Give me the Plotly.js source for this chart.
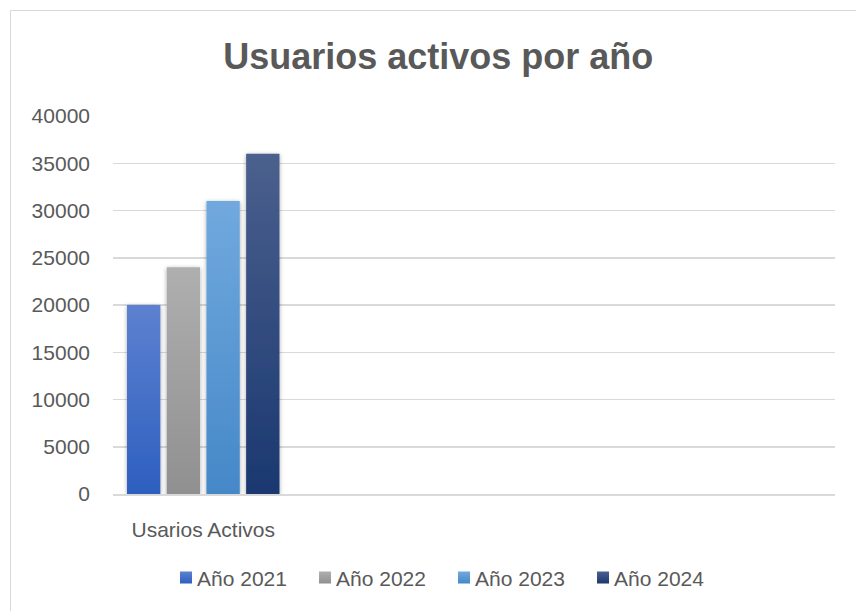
<!DOCTYPE html>
<html>
<head>
<meta charset="utf-8">
<script src="https://cdn.plot.ly/plotly-3.0.1.min.js"></script>
<style>
  html, body { margin: 0; padding: 0; background: #ffffff; overflow: hidden; }
  #chart { width: 856px; height: 611px; position: absolute; left: 0; top: 0; }
  #frame { position: absolute; left: 10px; top: 10px; width: 900px; height: 700px;
           border-left: 1.5px solid #d9d9d9; border-top: 1.5px solid #d9d9d9; pointer-events: none; }
</style>
</head>
<body>
<div id="chart"></div>
<div id="frame"></div>
<script>
// Data
const categories = ["Usarios Activos"];
const seriesNames = ["Año 2021", "Año 2022", "Año 2023", "Año 2024"];
const values2021 = [20000];
const values2022 = [24000];
const values2023 = [31000];
const values2024 = [36000];
const tickValues = [0, 5000, 10000, 15000, 20000, 25000, 30000, 35000, 40000];

const seriesValues = [values2021, values2022, values2023, values2024];
const baseColors = ["#3f6cc6", "#9e9e9e", "#559bd6", "#2a4679"];
const gradTop = ["#5d81d0", "#afafaf", "#71a9de", "#4b608d"];
const gradBottom = ["#2d5fbf", "#909090", "#4588c8", "#1b3870"];

const fontFam = "'Liberation Sans', Arial, sans-serif";
const textColor = "#595959";

const traces = seriesNames.map((name, i) => ({
  type: "bar",
  name: name,
  x: categories,
  y: seriesValues[i],
  marker: { color: baseColors[i], line: { width: 0 } },
  hoverinfo: "none"
}));

const layout = {
  width: 856,
  height: 611,
  paper_bgcolor: "#ffffff",
  plot_bgcolor: "#ffffff",
  margin: { l: 113, r: 21, t: 116, b: 117 },
  title: {
    text: "<b>Usuarios activos por año</b>",
    font: { family: fontFam, size: 36, color: textColor },
    x: 0.512, xanchor: "center",
    y: 0.907, yanchor: "middle"
  },
  barmode: "group",
  bargap: 0.12,
  bargroupgap: 0.16,
  showlegend: true,
  legend: {
    orientation: "h",
    x: 0.446, xanchor: "center",
    y: -0.222, yanchor: "middle",
    font: { family: fontFam, size: 21, color: textColor },
    entrywidth: 94,
    entrywidthmode: "pixels",
    itemwidth: 30
  },
  xaxis: {
    type: "category",
    range: [-0.5, 3.5],
    showgrid: false,
    showline: true,
    linecolor: "#d9d9d9",
    linewidth: 1.5,
    ticks: "",
    ticklabelstandoff: 16,
    tickfont: { family: fontFam, size: 21, color: textColor },
    fixedrange: true
  },
  yaxis: {
    range: [0, 40000],
    tickvals: tickValues,
    ticktext: tickValues.map(String),
    showgrid: true,
    gridcolor: "#d9d9d9",
    gridwidth: 1.5,
    zeroline: false,
    showline: false,
    ticks: "",
    ticklabelstandoff: 22,
    tickfont: { family: fontFam, size: 21, color: textColor },
    fixedrange: true
  }
};

Plotly.newPlot("chart", traces, layout, { displayModeBar: false, staticPlot: true }).then(gd => {
  const svg = gd.querySelector("svg.main-svg");
  const ns = "http://www.w3.org/2000/svg";
  let defs = svg.querySelector("defs");
  if (!defs) { defs = document.createElementNS(ns, "defs"); svg.insertBefore(defs, svg.firstChild); }
  gradTop.forEach((c, i) => {
    const lg = document.createElementNS(ns, "linearGradient");
    lg.setAttribute("id", "barGrad" + i);
    lg.setAttribute("x1", "0"); lg.setAttribute("y1", "0");
    lg.setAttribute("x2", "0"); lg.setAttribute("y2", "1");
    const s1 = document.createElementNS(ns, "stop");
    s1.setAttribute("offset", "0"); s1.setAttribute("stop-color", c);
    const s2 = document.createElementNS(ns, "stop");
    s2.setAttribute("offset", "1"); s2.setAttribute("stop-color", gradBottom[i]);
    lg.appendChild(s1); lg.appendChild(s2);
    defs.appendChild(lg);
  });
  const filt = document.createElementNS(ns, "filter");
  filt.setAttribute("id", "barShadow");
  filt.setAttribute("x", "-30%"); filt.setAttribute("y", "-10%");
  filt.setAttribute("width", "160%"); filt.setAttribute("height", "120%");
  const ds = document.createElementNS(ns, "feDropShadow");
  ds.setAttribute("dx", "0"); ds.setAttribute("dy", "1");
  ds.setAttribute("stdDeviation", "2.2");
  ds.setAttribute("flood-color", "#000000");
  ds.setAttribute("flood-opacity", "0.35");
  filt.appendChild(ds);
  defs.appendChild(filt);

  gd.querySelectorAll(".barlayer .trace.bars").forEach((tr, i) => {
    tr.querySelectorAll("path").forEach(p => {
      p.style.fill = "url(#barGrad" + i + ")";
      p.setAttribute("filter", "url(#barShadow)");
    });
  });
  gd.querySelectorAll(".legend .traces").forEach((tr, i) => {
    tr.querySelectorAll(".legendpoints").forEach(g => {
      g.setAttribute("transform", "translate(9,0)");
    });
    tr.querySelectorAll(".legendpoints path").forEach(p => {
      p.style.fill = "url(#barGrad" + i + ")";
    });
  });
});
</script>
</body>
</html>
